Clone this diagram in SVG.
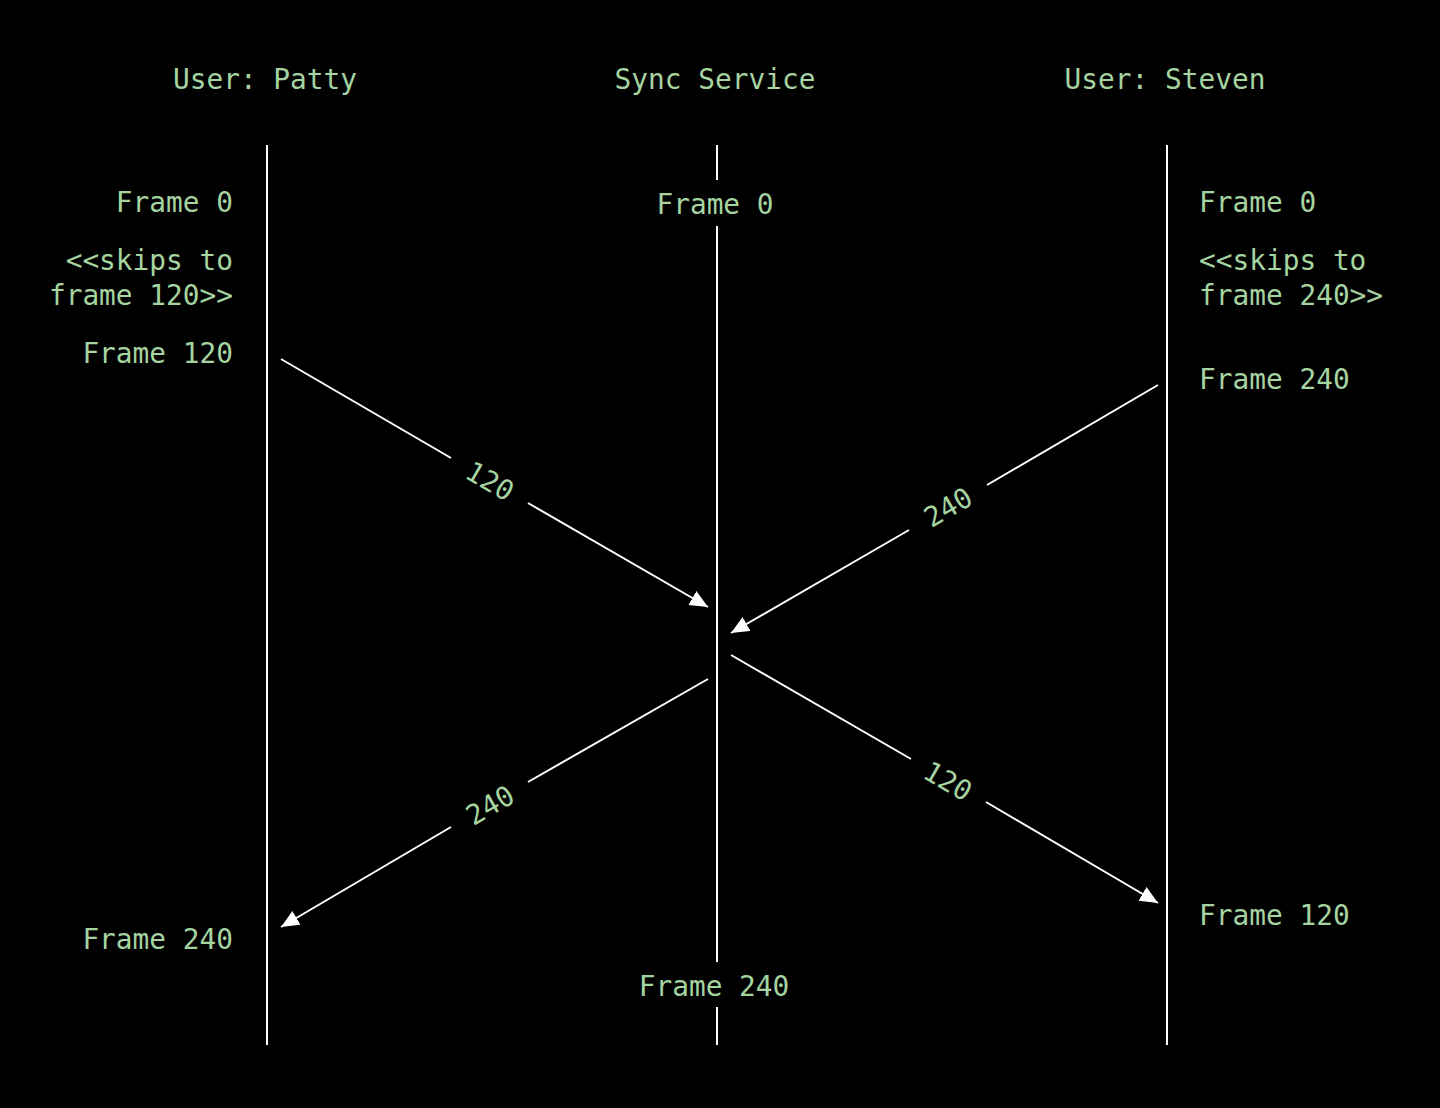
<svg xmlns="http://www.w3.org/2000/svg" width="1440" height="1108" viewBox="0 0 1440 1108">
<style>
text{font-family:"DejaVu Sans Mono","Liberation Mono",monospace;font-size:27.8px;fill:#a5d4a0}
.l{stroke:#fff;stroke-width:2;fill:none}
.a{stroke:#fff;stroke-width:2;fill:none;marker-end:url(#ah)}
.r{text-anchor:end}
.m{text-anchor:middle}
</style>
<defs>
<marker id="ah" markerUnits="userSpaceOnUse" markerWidth="20" markerHeight="18" refX="18" refY="8" orient="auto">
<path d="M0,0 L18,8 L0,16 z" fill="#fff"/>
</marker>
</defs>
<rect width="1440" height="1108" fill="#000"/>
<g id="patty">
<text class="m" x="265" y="89">User: Patty</text>
<line class="l" x1="267" y1="145" x2="267" y2="1045"/>
<text class="r" x="233" y="212">Frame 0</text>
<text class="r" x="233" y="270">&lt;&lt;skips to</text>
<text class="r" x="233" y="305">frame 120&gt;&gt;</text>
<text class="r" x="233" y="363">Frame 120</text>
<text class="r" x="233" y="949">Frame 240</text>
</g>
<g id="sync">
<text class="m" x="715" y="89">Sync Service</text>
<line class="l" x1="717" y1="145" x2="717" y2="180"/>
<line class="l" x1="717" y1="226" x2="717" y2="962"/>
<line class="l" x1="717" y1="1007" x2="717" y2="1045"/>
<text class="m" x="715" y="214">Frame 0</text>
<text class="m" x="714" y="996">Frame 240</text>
</g>
<g id="steven">
<text class="m" x="1165" y="89">User: Steven</text>
<line class="l" x1="1167" y1="145" x2="1167" y2="1045"/>
<text x="1199" y="212">Frame 0</text>
<text x="1199" y="270">&lt;&lt;skips to</text>
<text x="1199" y="305">frame 240&gt;&gt;</text>
<text x="1199" y="389">Frame 240</text>
<text x="1199" y="925">Frame 120</text>
</g>
<g id="connectors">
<line class="l" x1="281" y1="359" x2="451" y2="458"/>
<line class="a" x1="528" y1="503" x2="708" y2="607"/>
<text class="m" transform="translate(490,481) rotate(30)" y="10">120</text>
<line class="l" x1="1158" y1="385" x2="987" y2="485"/>
<line class="a" x1="909" y1="530" x2="731" y2="633"/>
<text class="m" transform="translate(948,507) rotate(-30)" y="10">240</text>
<line class="l" x1="708" y1="679" x2="528" y2="782"/>
<line class="a" x1="451" y1="827" x2="281" y2="927"/>
<text class="m" transform="translate(490,805) rotate(-30)" y="10">240</text>
<line class="l" x1="731" y1="655" x2="911" y2="759"/>
<line class="a" x1="986" y1="802" x2="1158" y2="903"/>
<text class="m" transform="translate(948,781) rotate(30)" y="10">120</text>
</g>
</svg>
